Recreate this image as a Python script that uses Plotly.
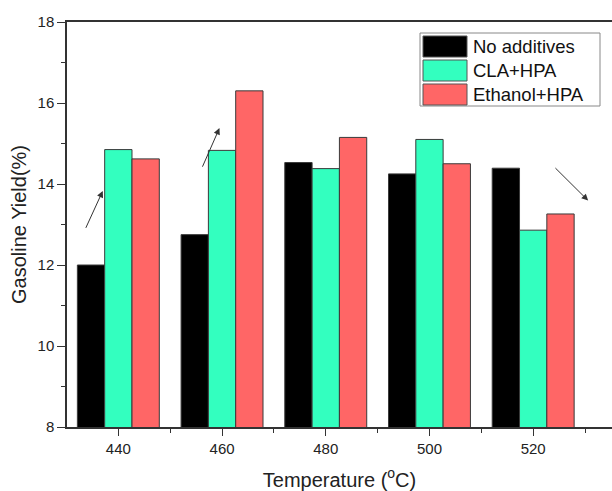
import plotly.graph_objects as go

temperatures = [440, 460, 480, 500, 520]
series_names = ["No additives", "CLA+HPA", "Ethanol+HPA"]
no_additives = [12.0, 12.75, 14.53, 14.25, 14.39]
cla_hpa = [14.85, 14.83, 14.38, 15.1, 12.86]
ethanol_hpa = [14.62, 16.3, 15.15, 14.5, 13.26]
colors = ["#000000", "#33FFBF", "#FF6666"]
x_ticks = [440, 460, 480, 500, 520]

# arrows (tail x, tail y, head x, head y) in data units
arrows = [
    (433.6, 12.88, 437.0, 13.83),
    (456.1, 14.39, 459.5, 15.38),
    (524.0, 14.43, 530.6, 13.59),
]

fig = go.Figure()
for name, vals, col in zip(series_names, [no_additives, cla_hpa, ethanol_hpa], colors):
    fig.add_trace(go.Bar(
        x=temperatures, y=vals, name=name, marker_color=col,
        marker_line=dict(color="#3a3a3a", width=1), showlegend=False,
        base=0,
    ))

font_family = "Liberation Sans, Arial, sans-serif"
fig.update_layout(
    width=612, height=491,
    margin=dict(l=67, r=0, t=22, b=64),
    paper_bgcolor="white", plot_bgcolor="white",
    barmode="group", bargap=0.21, bargroupgap=0,
    font=dict(family=font_family, size=15, color="#222"),
)
fig.update_xaxes(
    range=[430.1, 535.2], tickvals=x_ticks, ticktext=[str(t) for t in x_ticks],
    ticks="outside", ticklen=7, tickwidth=1.2, tickcolor="#333",
    showline=True, linecolor="#333", linewidth=1.5, mirror=True,
    showgrid=False, zeroline=False,
    minor=dict(tickvals=[430, 450, 470, 490, 510, 530], ticks="outside", ticklen=4, tickcolor="#333", showgrid=False),
    title=dict(text="Temperature (<sup>o</sup>C)", font=dict(size=20), standoff=17),
    tickfont=dict(size=15),
)
fig.update_yaxes(
    range=[8, 18], tickvals=[8, 10, 12, 14, 16, 18],
    ticks="outside", ticklen=8, tickwidth=1.2, tickcolor="#333",
    showline=True, linecolor="#333", linewidth=1.5, mirror=False,
    showgrid=False, zeroline=False,
    minor=dict(tickvals=[9, 11, 13, 15, 17], ticks="outside", ticklen=4, tickcolor="#333", showgrid=False),
    title=dict(text="Gasoline Yield(%)", font=dict(size=20), standoff=6),
    tickfont=dict(size=15),
)

for (tx, ty, hx, hy) in arrows:
    fig.add_annotation(
        x=hx, y=hy, ax=tx, ay=ty, xref="x", yref="y", axref="x", ayref="y",
        showarrow=True, arrowhead=2, arrowsize=1.3, arrowwidth=1, arrowcolor="#333", text="",
    )

# custom legend
W = 545.0
H = 405.0
def px_x(p):
    return (p - 67) / W
def px_y(p):
    return (427 - p) / H

fig.add_shape(type="rect", xref="paper", yref="paper",
              x0=px_x(420), x1=px_x(600), y0=px_y(106), y1=px_y(33),
              line=dict(color="#888", width=1), fillcolor="white", layer="above")
rows = [(36, 57), (60, 81), (84, 105)]
for (y0, y1), name, col in zip(rows, series_names, colors):
    fig.add_shape(type="rect", xref="paper", yref="paper",
                  x0=px_x(423), x1=px_x(467), y0=px_y(y1), y1=px_y(y0),
                  line=dict(color="#555", width=1), fillcolor=col, layer="above")
    fig.add_annotation(xref="paper", yref="paper", x=px_x(471), y=px_y((y0 + y1) / 2),
                       text=name, showarrow=False, xanchor="left", yanchor="middle",
                       font=dict(size=18.5, color="#111"))

fig.write_html("out.html")
